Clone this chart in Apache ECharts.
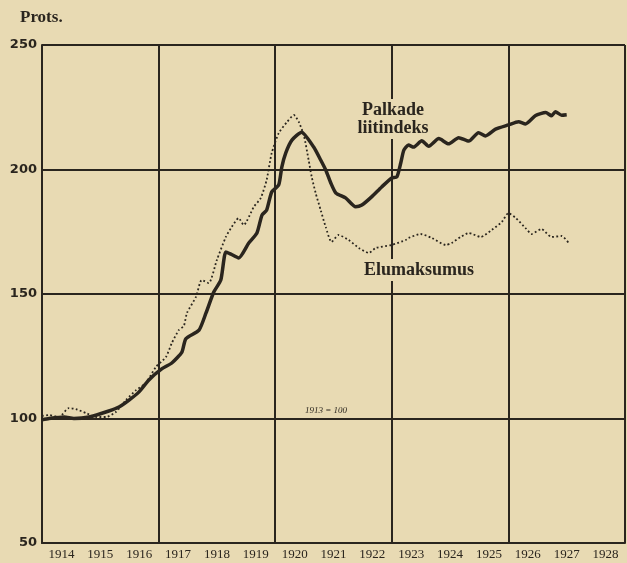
<!DOCTYPE html>
<html>
<head>
<meta charset="utf-8">
<script src="https://cdn.jsdelivr.net/npm/echarts@6/dist/echarts.min.js"></script>
<style>
    html, body { margin: 0; padding: 0; background: #e8dab3; }
    #chart { width: 627px; height: 563px; }
</style>
</head>
<body>
<div id="chart"></div>
<script>
// year labels under the axis
var yearLabels = ['1914', '1915', '1916', '1917', '1918', '1919', '1920', '1921',
    '1922', '1923', '1924', '1925', '1926', '1927', '1928'];

// Palkade liitindeks (thick line), time in years
var palkYears = [1914.00, 1914.18, 1914.57, 1914.82, 1915.21, 1915.72, 1915.98, 1916.24, 1916.49, 1916.75,
    1917.08, 1917.34, 1917.60, 1917.70, 1918.04, 1918.22, 1918.42, 1918.60, 1918.73, 1918.86,
    1919.06, 1919.32, 1919.53, 1919.66, 1919.78, 1919.91, 1920.09, 1920.17, 1920.27, 1920.43,
    1920.68, 1920.99, 1921.17, 1921.30, 1921.43, 1921.56, 1921.81, 1922.07, 1922.23, 1922.48,
    1922.74, 1923.00, 1923.13, 1923.23, 1923.31, 1923.43, 1923.56, 1923.77, 1923.95, 1924.21,
    1924.46, 1924.72, 1924.98, 1925.23, 1925.41, 1925.67, 1926.00, 1926.26, 1926.44, 1926.70,
    1926.96, 1927.11, 1927.21, 1927.37, 1927.50];
var palkValues = [99.5, 100, 100.6, 100, 100.6, 103, 104.6, 107.4, 110.6, 115.5,
    119.9, 122.3, 126.7, 132, 135.5, 142.4, 150.8, 155.6, 166.9, 166,
    164.5, 170.5, 174.5, 181.7, 183.7, 191, 193.8, 201, 206.6, 211.8,
    215, 209, 203.8, 199.8, 194.6, 190.6, 188.6, 185, 185.7, 189,
    193, 196.6, 197, 202.6, 207.8, 209.8, 209, 211.5, 209.3, 212.4,
    210.3, 212.8, 211.4, 214.8, 213.5, 216.2, 217.9, 219.2, 218.3, 221.7,
    222.9, 221.6, 223.2, 221.8, 222];

// Elumaksumus (dotted line)
var eluYears = [1914.00, 1914.18, 1914.44, 1914.69, 1914.87, 1915.13, 1915.39, 1915.65, 1915.90, 1916.16,
    1916.42, 1916.67, 1916.93, 1917.19, 1917.34, 1917.52, 1917.65, 1917.73, 1917.96, 1918.11,
    1918.29, 1918.50, 1918.73, 1918.88, 1919.06, 1919.19, 1919.45, 1919.63, 1919.78, 1919.91,
    1920.09, 1920.30, 1920.48, 1920.61, 1920.74, 1920.86, 1920.94, 1921.04, 1921.17, 1921.30,
    1921.45, 1921.63, 1921.89, 1922.15, 1922.41, 1922.59, 1923.00, 1923.36, 1923.43, 1923.74,
    1924.03, 1924.39, 1924.54, 1924.77, 1924.98, 1925.29, 1925.57, 1925.83, 1926.00, 1926.19,
    1926.44, 1926.60, 1926.85, 1927.11, 1927.37, 1927.55];
var eluValues = [101, 101.4, 100.6, 104.2, 103.8, 102.2, 100.6, 100.6, 102.6, 107.4,
    111.4, 114.2, 120.7, 124.7, 130.3, 135.5, 137.2, 142.4, 148.8, 155.6,
    154.4, 163.7, 172.9, 176.9, 180.5, 177.7, 185, 188.6, 195.8, 206.6,
    214.6, 219, 221.9, 219, 213.5, 203.8, 197, 190.6, 183.7, 176.9,
    170.9, 173.7, 171.7, 168.5, 166.5, 168.5, 169.7, 171.7, 172.5, 174.1,
    172.5, 169.7, 170.5, 172.9, 174.5, 172.9, 175.7, 178.9, 182.5, 180.5,
    176.5, 174.1, 176.1, 172.9, 173.3, 170.5];

function pairs(xs, ys) {
    var out = [];
    for (var i = 0; i < xs.length; i++) {
        out.push([xs[i], ys[i]]);
    }
    return out;
}

var ink = '#2a251e';
var paper = '#e8dab3';

var chart = echarts.init(document.getElementById('chart'));

var option = {
    backgroundColor: paper,
    animation: false,
    grid: {
        left: 42,
        right: 2,
        top: 45,
        bottom: 20
    },
    xAxis: [
        {
            type: 'category',
            data: yearLabels,
            boundaryGap: true,
            position: 'bottom',
            axisLine: {
                lineStyle: { color: ink, width: 2 }
            },
            axisTick: {
                inside: true,
                length: 6,
                lineStyle: { color: ink, width: 2 }
            },
            axisLabel: {
                margin: 5,
                color: ink,
                fontFamily: 'Liberation Serif',
                fontSize: 13
            },
            splitLine: { show: false }
        },
        {
            type: 'value',
            min: 1914,
            max: 1929,
            interval: 3,
            position: 'top',
            axisLine: { show: false },
            axisTick: { show: false },
            axisLabel: { show: false },
            splitLine: {
                show: true,
                lineStyle: { color: ink, width: 2 }
            }
        }
    ],
    yAxis: {
        type: 'value',
        min: 50,
        max: 250,
        interval: 50,
        axisLine: {
            show: true,
            lineStyle: { color: ink, width: 2 }
        },
        axisTick: { show: false },
        axisLabel: {
            margin: 5,
            color: ink,
            fontFamily: 'DejaVu Sans',
            fontWeight: 'bold',
            fontSize: 13
        },
        splitLine: {
            lineStyle: { color: ink, width: 2 }
        }
    },
    graphic: [
        {
            type: 'text',
            x: 20,
            y: 9,
            style: {
                text: 'Prots.',
                fill: ink,
                font: 'bold 17px "Liberation Serif"'
            }
        },
        {
            type: 'text',
            x: 393,
            y: 99,
            z: 10,
            style: {
                text: 'Palkade\nliitindeks',
                align: 'center',
                fill: ink,
                font: 'bold 18px "Liberation Serif"',
                lineHeight: 18,
                backgroundColor: paper,
                padding: [2, 2]
            }
        },
        {
            type: 'text',
            x: 362,
            y: 259,
            z: 10,
            style: {
                text: 'Elumaksumus',
                fill: ink,
                font: 'bold 18px "Liberation Serif"',
                backgroundColor: paper,
                padding: [2, 2]
            }
        },
        {
            type: 'text',
            x: 305,
            y: 406,
            style: {
                text: '1913 = 100',
                fill: ink,
                font: 'italic 9px "Liberation Serif"'
            }
        }
    ],
    series: [
        {
            name: 'Palkade liitindeks',
            type: 'line',
            xAxisIndex: 1,
            smooth: 0.2,
            showSymbol: false,
            data: pairs(palkYears, palkValues),
            lineStyle: { color: ink, width: 3.5 },
            z: 3
        },
        {
            name: 'Elumaksumus',
            type: 'line',
            xAxisIndex: 1,
            smooth: 0.2,
            showSymbol: false,
            data: pairs(eluYears, eluValues),
            lineStyle: { color: ink, width: 1.8, type: [1.8, 2.4] },
            z: 3
        }
    ]
};

chart.setOption(option);
</script>
</body>
</html>
